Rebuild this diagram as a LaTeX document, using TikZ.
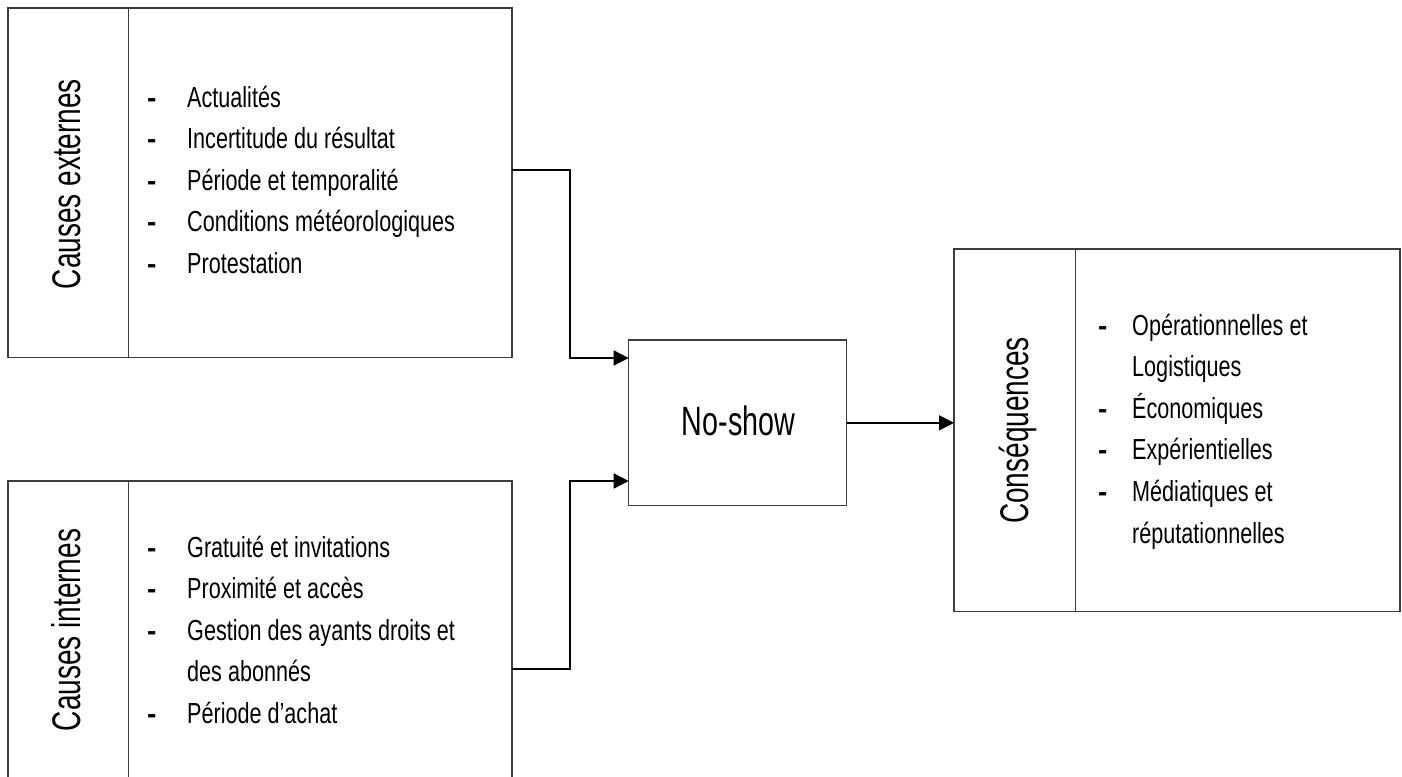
\documentclass[tikz,border=0pt]{standalone}
\usepackage{fontspec}
\setmainfont{Liberation Sans}
\newfontfamily\listfont{Liberation Sans}[FakeStretch=0.745]
\newfontfamily\labfont{Liberation Sans}[FakeStretch=0.70]
\usetikzlibrary{arrows.meta}
\definecolor{boxline}{HTML}{3C3C3C}
\tikzset{
  box/.style={draw=boxline, line width=1.5pt, inner sep=0pt, outer sep=0pt},
  conn/.style={draw=black, line width=1.5pt, -{Triangle[length=15pt,width=15pt]}},
  labtxt/.style={font=\labfont\fontsize{40}{48}\selectfont, inner sep=0pt, anchor=base, rotate=90},
  itemtxt/.style={font=\listfont\fontsize{29}{35}\selectfont, inner sep=0pt, anchor=base west},
  dashtxt/.style={font=\rmfamily\bfseries\fontsize{28}{35}\selectfont, inner sep=0pt, anchor=base west},
}
\begin{document}
\begin{tikzpicture}[x=1pt, y=-1pt]
\useasboundingbox (0,0) rectangle (1402,776);
% boxes
\node[box, minimum width=120.7pt, minimum height=349.7pt] (extL) at (68.35,182.85) {};
\node[box, minimum width=383.3pt, minimum height=349.7pt] (extC) at (320.35,182.85) {};
\node[box, minimum width=120.7pt, minimum height=298pt] (intL) at (68.35,630) {};
\node[box, minimum width=383.3pt, minimum height=298pt] (intC) at (320.35,630) {};
\node[box, minimum width=218pt, minimum height=165.7pt] (noshow) at (737.7,422.85) {};
\node[box, minimum width=121.7pt, minimum height=362.7pt] (conL) at (1014.85,430.35) {};
\node[box, minimum width=324.3pt, minimum height=362.7pt] (conC) at (1237.85,430.35) {};
% labels
\node[labtxt] (extT) at (80,184) {Causes externes};
\node[labtxt] (intT) at (80,630) {Causes internes};
\node[labtxt] (conT) at (1028,430.5) {Conséquences};
\node[font=\labfont\fontsize{41}{48}\selectfont, inner sep=0pt, anchor=base] (nsT) at (738.4,435) {No-show};
% external causes
\foreach \t [count=\i from 0] in {Actualités, Incertitude du résultat, Période et temporalité, Conditions météorologiques, Protestation}{
  \node[dashtxt] (ed\i) at (147,107+41.6*\i) {-};
  \node[itemtxt] (et\i) at (187,107+41.6*\i) {\t};
}
% internal causes
\node[dashtxt] (id0) at (147,557) {-};
\node[itemtxt] (it0) at (187,557) {Gratuité et invitations};
\node[dashtxt] (id1) at (147,598.6) {-};
\node[itemtxt] (it1) at (187,598.6) {Proximité et accès};
\node[dashtxt] (id2) at (147,640.2) {-};
\node[itemtxt] (it2) at (187,640.2) {Gestion des ayants droits et};
\node[itemtxt] (it3) at (187,681.8) {des abonnés};
\node[dashtxt] (id4) at (147,723.4) {-};
\node[itemtxt] (it4) at (187,723.4) {Période d’achat};
% consequences
\node[dashtxt] (cd0) at (1098,335) {-};
\node[itemtxt] (ct0) at (1132,335) {Opérationnelles et};
\node[itemtxt] (ct1) at (1132,376.6) {Logistiques};
\node[dashtxt] (cd2) at (1098,418.2) {-};
\node[itemtxt] (ct2) at (1132,418.2) {Économiques};
\node[dashtxt] (cd3) at (1098,459.8) {-};
\node[itemtxt] (ct3) at (1132,459.8) {Expérientielles};
\node[dashtxt] (cd4) at (1098,501.4) {-};
\node[itemtxt] (ct4) at (1132,501.4) {Médiatiques et};
\node[itemtxt] (ct5) at (1132,543) {réputationnelles};
% connectors
\coordinate (out1) at (extC.east |- 0,170);
\coordinate (out2) at (intC.east |- 0,669);
\coordinate (in1) at (noshow.west |- 0,358);
\coordinate (in2) at (noshow.west |- 0,481);
\draw[conn] (out1) -- ++(58,0) |- (in1);
\draw[conn] (out2) -- ++(58,0) |- (in2);
\draw[conn] (noshow.east) -- (noshow.east -| conL.west);
\end{tikzpicture}
\end{document}
